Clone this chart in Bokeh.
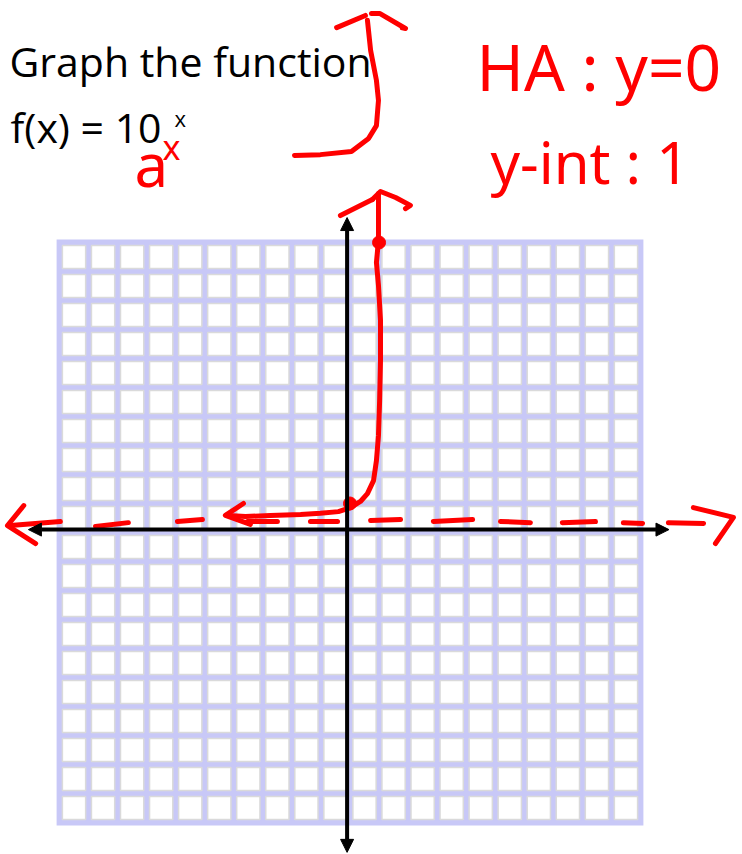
from bokeh.plotting import figure
from bokeh.models import Range1d, Arrow, NormalHead
from bokeh.core.properties import value
from bokeh.embed import file_html
from bokeh.resources import INLINE
import numpy as np

# ---- content -------------------------------------------------------------
TITLE = "Graph the function"
FUNC_BASE = "f(x) = 10"
FUNC_EXP = "x"
GENERAL_BASE = "a"
GENERAL_EXP = "x"
NOTE_HA = "HA : y=0"
NOTE_YINT = "y-int : 1"

GRID_TICKS = list(range(-10, 11))          # graph-paper lines at every unit

# plotted points of f(x) = 10^x
POINT_X = [0, 1]
POINT_Y = [1, 10]

# hand-sketched curve through the points (math units)
CURVE_X = [0.98, 0.98, 0.98, 0.91, 0.98, 1.05, 1.05, 1.02, 0.98, 0.91, 0.81,
           0.60, 0.36, 0.02, -0.40, -1.02, -1.70, -2.74, -3.60, -4.18]
CURVE_Y = [11.69, 10.93, 10.07, 9.31, 8.52, 7.31, 5.93, 4.55, 3.34, 2.48, 1.79,
           1.34, 1.07, 0.86, 0.72, 0.66, 0.62, 0.59, 0.55, 0.59]

# horizontal asymptote, sketched as hand-drawn dashes
HA_DASH_X0 = [-11.69, -8.76, -5.94, -3.53, -1.36, 0.71, 2.87, 5.18, 7.31, 9.41, 10.96]
HA_DASH_X1 = [-9.97, -7.63, -5.08, -2.50, -0.43, 1.74, 4.22, 6.21, 8.45, 10.07, 12.17]
HA_DASH_Y0 = [0.24, 0.21, 0.38, 0.38, 0.38, 0.41, 0.38, 0.38, 0.34, 0.34, 0.34]
HA_DASH_Y1 = [0.38, 0.34, 0.45, 0.38, 0.38, 0.45, 0.45, 0.34, 0.38, 0.31, 0.31]

# arrow heads and brace strokes of the sketch (math units)
SKETCH_XS = [
    [-11.23, -11.79, -10.82],                 # left end of asymptote
    [11.82, 13.20, 12.58],                    # right end of asymptote
    [-3.67, -4.29, -3.43],                    # left end of curve
    [-0.33, 0.22, 0.77],                      # top of curve
    [0.77, 1.05, 1.57, 2.08, 1.91],
    [-1.91, -1.02, 0.05, 0.64, 0.91, 0.98, 0.91, 0.71, 0.60],   # brace by title
    [-0.46, 0.53],
    [0.74, 1.02, 1.91, 1.80],
]
SKETCH_YS = [
    [0.93, 0.24, -0.38],
    [0.86, 0.52, -0.38],
    [1.00, 0.59, 0.28],
    [10.93, 11.21, 11.48],
    [11.48, 11.76, 11.55, 11.28, 11.17],
    [13.00, 13.03, 13.14, 13.59, 14.03, 14.90, 15.59, 16.62, 17.66],
    [17.41, 17.83],
    [17.90, 17.90, 17.38, 17.40],
]

# ---- layout --------------------------------------------------------------
W, H = 742, 854
ORIGIN_PX = (349.5, 532.0)
UNIT_PX = (29.05, 29.0)


def X(px):
    return (px - ORIGIN_PX[0]) / UNIT_PX[0]


def Y(py):
    return (ORIGIN_PX[1] - py) / UNIT_PX[1]


def base(py, size):
    # anchor a text so that its baseline sits at pixel row py
    return Y(py - 0.41 * size)


RED = "#ff0000"
LAVENDER = "#c8c8f7"
CELL_EDGE = "#dadada"

p = figure(width=W, height=H, output_backend="svg", toolbar_location=None,
           x_range=Range1d(X(0), X(W)), y_range=Range1d(Y(H), Y(0)),
           min_border=0, min_border_left=0, min_border_right=0,
           min_border_top=0, min_border_bottom=0)
p.axis.visible = False
p.grid.visible = False
p.outline_line_color = None
p.background_fill_color = "white"
p.border_fill_color = "white"

# ---- graph paper ---------------------------------------------------------
lo, hi = GRID_TICKS[0], GRID_TICKS[-1]
half = 0.1
p.quad(left=[lo - half], right=[hi + half], bottom=[lo - half], top=[hi + half],
       fill_color=LAVENDER, line_color=None)
cx, cy = np.meshgrid(GRID_TICKS[:-1], GRID_TICKS[:-1])
cx, cy = cx.ravel(), cy.ravel()
p.quad(left=cx + half, right=cx + 1 - half, bottom=cy + half, top=cy + 1 - half,
       fill_color="white", line_color=CELL_EDGE, line_width=1.5)

# ---- coordinate axes -----------------------------------------------------
AX_X, AX_Y = -0.1, 0.1
AX_EXT = (-11.07, 10.98, -11.03, 10.86)
for xs, ys, xe, ye in [(AX_EXT[0], AX_Y, AX_EXT[1], AX_Y),
                       (AX_X, AX_EXT[2], AX_X, AX_EXT[3])]:
    p.add_layout(Arrow(x_start=xs, y_start=ys, x_end=xe, y_end=ye,
                       line_color="black", line_width=4,
                       start=NormalHead(size=13, fill_color="black", line_color="black", line_width=1),
                       end=NormalHead(size=13, fill_color="black", line_color="black", line_width=1)))

# ---- printed text --------------------------------------------------------
TXT_FONT = value("Open Sans")
p.text(x=[X(9)], y=[base(77, 41)], text=[TITLE], text_font=TXT_FONT,
       text_font_size="41px", text_color="black", text_baseline="alphabetic")
p.text(x=[X(10)], y=[base(143, 41)], text=[FUNC_BASE], text_font=TXT_FONT,
       text_font_size="41px", text_color="black", text_baseline="alphabetic")
p.text(x=[X(174)], y=[base(127, 22)], text=[FUNC_EXP], text_font=TXT_FONT,
       text_font_size="22px", text_color="black", text_baseline="alphabetic")

# ---- handwritten notes ---------------------------------------------------
HAND_FONT = value("Noto Sans")
p.text(x=[X(476)], y=[base(92, 64)], text=[NOTE_HA], text_font=HAND_FONT,
       text_font_size="64px", text_color=RED, text_baseline="alphabetic")
p.text(x=[X(490)], y=[base(185, 58)], text=[NOTE_YINT], text_font=HAND_FONT,
       text_font_size="58px", text_color=RED, text_baseline="alphabetic")
p.text(x=[X(134)], y=[base(188, 60)], text=[GENERAL_BASE], text_font=HAND_FONT,
       text_font_size="60px", text_color=RED, text_baseline="alphabetic")
p.text(x=[X(162)], y=[base(160, 34)], text=[GENERAL_EXP], text_font=HAND_FONT,
       text_font_size="34px", text_color=RED, text_baseline="alphabetic")

# ---- sketched graph ------------------------------------------------------
p.segment(x0=HA_DASH_X0, y0=HA_DASH_Y0, x1=HA_DASH_X1, y1=HA_DASH_Y1,
          line_color=RED, line_width=5, line_cap="round")
p.line(CURVE_X, CURVE_Y, line_color=RED, line_width=5,
       line_cap="round", line_join="round")
p.multi_line(SKETCH_XS, SKETCH_YS, line_color=RED, line_width=5,
             line_cap="round", line_join="round")
p.scatter(POINT_X, POINT_Y, size=13, fill_color=RED, line_color=RED)

open("out.html", "w").write(file_html(p, INLINE))
